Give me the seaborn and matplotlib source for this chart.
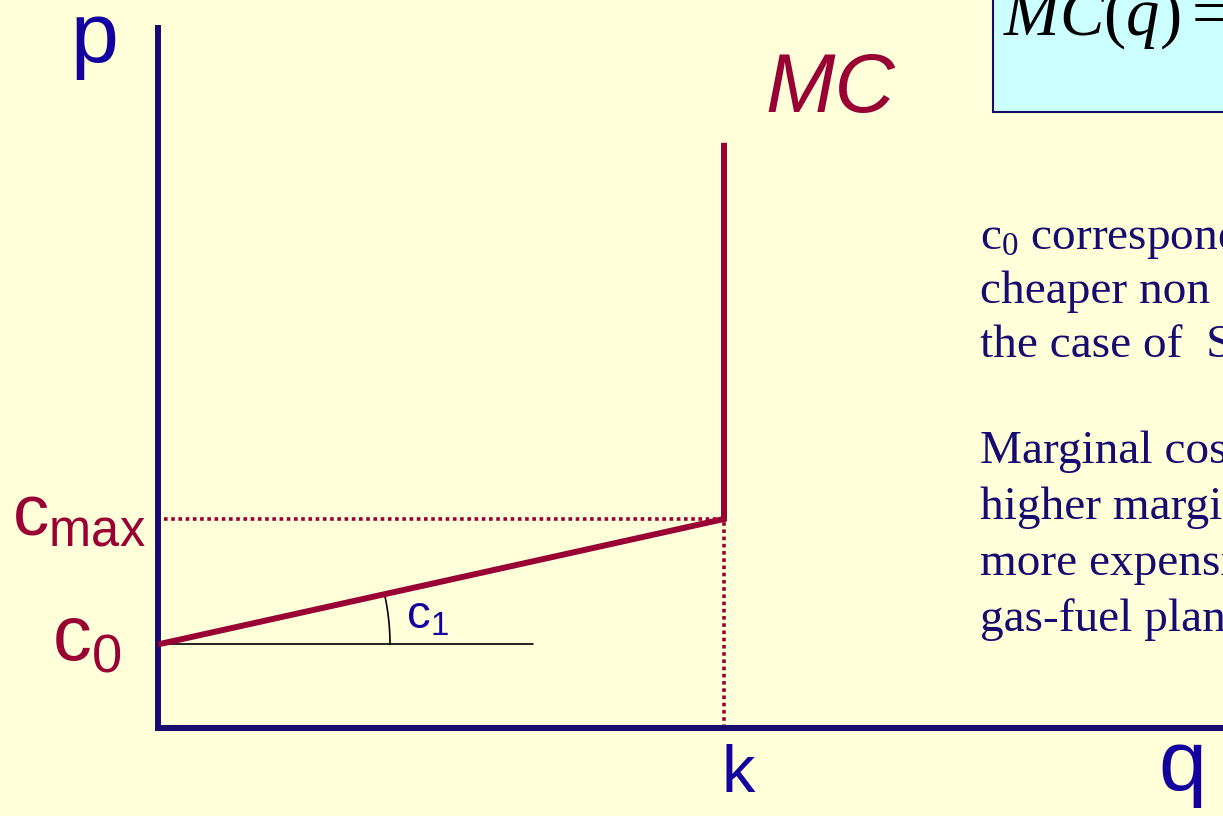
import numpy as np
import pandas as pd
import matplotlib
matplotlib.use("Agg")
import matplotlib.pyplot as plt
import seaborn as sns

# Marginal cost curve of a plant with capacity k:
# MC(q) = c0 + c1*q for q < k, vertical at q = k
c0 = 2.0
c_max = 5.0
k = 10.0
mc_top = 14.0
q_points = [0.0, k, k]
p_points = [c0, c_max, mc_top]

para_1 = ["c$_0$ corresponds to the", "cheaper non fuel plants, as in",
          "the case of  Spain"]
para_2 = ["Marginal cost increases reaching", "higher marginal costs for the",
          "more expensive plants, such as", "gas-fuel plants"]

BG = "#FFFFD9"
NAVY = "#160C70"
LABEL_BLUE = "#14009E"
WINE = "#990033"

sns.set_theme(style="white", rc={"axes.facecolor": BG, "figure.facecolor": BG})
plt.rcParams["font.family"] = ["Liberation Sans", "DejaVu Sans"]
plt.rcParams["mathtext.fontset"] = "custom"
plt.rcParams["mathtext.rm"] = "Liberation Serif"
plt.rcParams["mathtext.it"] = "Liberation Serif:italic"
plt.rcParams["mathtext.default"] = "regular"

fig = plt.figure(figsize=(12.23, 8.16), dpi=100)
ax = fig.add_axes([0, 0, 1, 1])
ax.set_facecolor(BG)

# pixel scale of one data unit
sx, sy = 56.6, 41.8
x0_px, y0_px = 158, 728
ax.set_xlim(-x0_px / sx, (1223 - x0_px) / sx)
ax.set_ylim(-(816 - y0_px) / sy, y0_px / sy)
ax.axis("off")

# axes of the diagram
y_top = (y0_px - 25) / sy
ax.plot([0, 0], [-0.05, y_top], color=NAVY, lw=4.3, solid_capstyle="butt", zorder=3)
ax.plot([-0.05, 30], [0, 0], color=NAVY, lw=4.3, solid_capstyle="butt", zorder=3)

# guide lines to c_max and k
ax.plot([0.1, k], [c_max, c_max], color=WINE, lw=2.6, ls=(0, (1, 1)), zorder=2)
ax.plot([k, k], [0, c_max], color=WINE, lw=2.6, ls=(0, (1, 1)), zorder=2)

# horizontal reference and slope angle
ax.plot([0, 6.63], [c0, c0], color="black", lw=1.2, zorder=2)
slope_px = (c_max - c0) * sy / (k * sx)
phi = np.arctan(slope_px)
r_px = 232
t = np.linspace(0, phi, 40)
ax.plot(r_px * np.cos(t) / sx, c0 + r_px * np.sin(t) / sy, color="black", lw=1.2, zorder=2)

# marginal cost curve
mc_df = pd.DataFrame({"q": q_points, "p": p_points})
sns.lineplot(data=mc_df, x="q", y="p", sort=False, estimator=None, color=WINE,
             lw=4.3, ax=ax, zorder=4)
ax.lines[-1].set_solid_joinstyle("miter")
ax.lines[-1].set_solid_capstyle("butt")

def px(x, y):
    return ((x - x0_px) / sx, (y0_px - y) / sy)

ax.text(*px(70, 62), "p", fontsize=62, color=LABEL_BLUE, va="baseline", ha="left")
ax.text(*px(1158, 790), "q", fontsize=62, color=LABEL_BLUE, va="baseline", ha="left")
ax.text(*px(721, 792), "k", fontsize=48, color=LABEL_BLUE, va="baseline", ha="left")
ax.text(*px(765, 112), "MC", fontsize=60, color=WINE, style="italic",
        va="baseline", ha="left")
ax.text(*px(12, 535), "c$_{max}$", fontsize=52, color=WINE, va="baseline", ha="left")
ax.text(*px(52, 660), "c$_0$", fontsize=56, color=WINE, va="baseline", ha="left")
ax.text(*px(406, 628), "c$_1$", fontsize=34, color=LABEL_BLUE, va="baseline", ha="left")

# formula box
box_x, box_y = px(993, 112)
ax.add_patch(plt.Rectangle((box_x, box_y), 40, 20, facecolor="#CCFFFF",
                           edgecolor=NAVY, lw=1.5, zorder=1))
ax.text(*px(1003, 35), r"$\mathit{MC}(\mathit{q}) = \mathit{c}_0 + \mathit{c}_1\mathit{q}$",
        fontsize=48, color="black", family="Liberation Serif",
        va="baseline", ha="left", zorder=5)

# explanatory notes
for i, line in enumerate(para_1):
    ax.text(*px(980, 249 + 54 * i), line, fontsize=34, color=NAVY,
            family="Liberation Serif", va="baseline", ha="left")
for i, line in enumerate(para_2):
    ax.text(*px(980, 463 + 56 * i), line, fontsize=34, color=NAVY,
            family="Liberation Serif", va="baseline", ha="left")

fig.savefig("out.png", dpi=100, facecolor=BG)
